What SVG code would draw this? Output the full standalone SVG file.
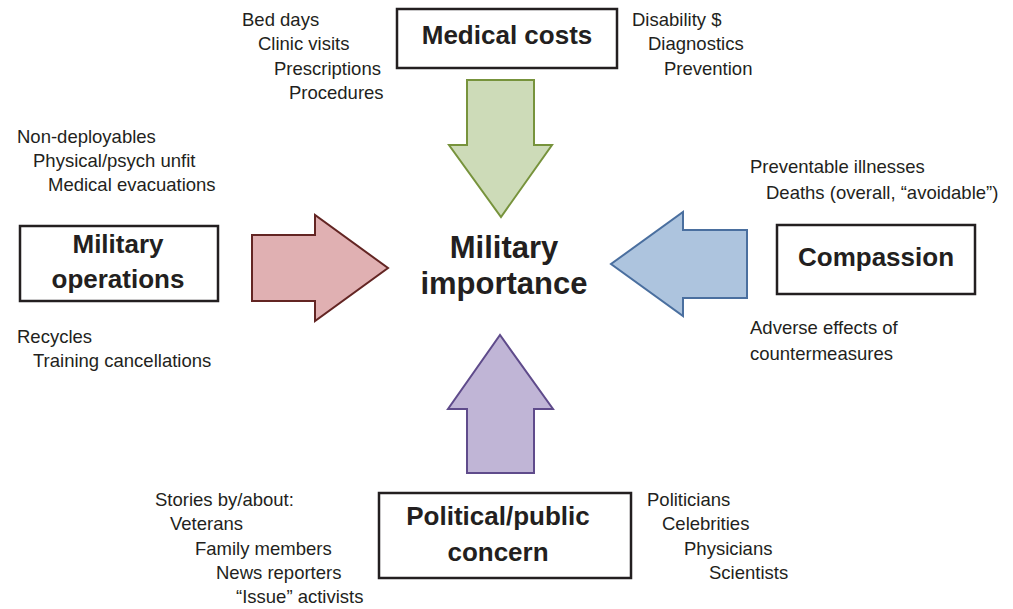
<svg xmlns="http://www.w3.org/2000/svg" width="1013" height="609" viewBox="0 0 1013 609">
<style>
.t{font-family:"Liberation Sans",Arial,sans-serif;font-size:18.5px;fill:#231f20}
.b{font-family:"Liberation Sans",Arial,sans-serif;font-size:26px;font-weight:bold;fill:#231f20;text-anchor:middle}
.c{font-family:"Liberation Sans",Arial,sans-serif;font-size:31px;font-weight:bold;fill:#231f20;text-anchor:middle}
.box{fill:#fff;stroke:#231f20;stroke-width:2.5}
.arr{stroke-width:2;stroke-linejoin:miter}
</style>
<rect width="1013" height="609" fill="#fff"/>
<g id="connectors">
<polygon class="arr" fill="#cddbb8" stroke="#77933c" points="467,80 534,80 534,145 552,145 501,217 449,145 467,145"/>
<polygon class="arr" fill="#e0b0b2" stroke="#632523" points="252,235 315,235 315,215 388,268 315,321 315,301 252,301"/>
<polygon class="arr" fill="#adc4de" stroke="#4a6f9f" points="747,230 683,230 683,212 611,264 683,316 683,298 747,298"/>
<polygon class="arr" fill="#c0b5d6" stroke="#5f4b8b" points="467,473 534,473 534,409 553,409 500,335 448,409 467,409"/>
</g>
<g id="center">
<text class="c" x="504" y="258">Military</text>
<text class="c" x="504" y="294">importance</text>
</g>
<g id="medical-costs">
<rect class="box" x="397" y="9" width="220" height="59"/>
<text class="b" x="507" y="44">Medical costs</text>
<text class="t" x="242" y="26">Bed days</text>
<text class="t" x="258" y="50">Clinic visits</text>
<text class="t" x="274" y="75">Prescriptions</text>
<text class="t" x="289" y="99">Procedures</text>
<text class="t" x="632" y="26">Disability $</text>
<text class="t" x="648" y="50">Diagnostics</text>
<text class="t" x="664" y="75">Prevention</text>
</g>
<g id="military-operations">
<rect class="box" x="20" y="226" width="198" height="75"/>
<text class="b" x="118" y="253">Military</text>
<text class="b" x="118" y="288">operations</text>
<text class="t" x="17" y="143">Non-deployables</text>
<text class="t" x="33" y="167">Physical/psych unfit</text>
<text class="t" x="48" y="191">Medical evacuations</text>
<text class="t" x="17" y="343">Recycles</text>
<text class="t" x="33" y="367">Training cancellations</text>
</g>
<g id="compassion">
<rect class="box" x="777" y="225" width="198" height="69"/>
<text class="b" x="876" y="266">Compassion</text>
<text class="t" x="750" y="173">Preventable illnesses</text>
<text class="t" x="766" y="199">Deaths (overall, “avoidable”)</text>
<text class="t" x="750" y="334">Adverse effects of</text>
<text class="t" x="750" y="360">countermeasures</text>
</g>
<g id="political-public-concern">
<rect class="box" x="379" y="493" width="252" height="85"/>
<text class="b" x="498" y="525">Political/public</text>
<text class="b" x="498" y="561">concern</text>
<text class="t" x="155" y="506">Stories by/about:</text>
<text class="t" x="170" y="530">Veterans</text>
<text class="t" x="195" y="555">Family members</text>
<text class="t" x="216" y="579">News reporters</text>
<text class="t" x="236" y="603">“Issue” activists</text>
<text class="t" x="647" y="506">Politicians</text>
<text class="t" x="662" y="530">Celebrities</text>
<text class="t" x="684" y="555">Physicians</text>
<text class="t" x="709" y="579">Scientists</text>
</g>
</svg>
